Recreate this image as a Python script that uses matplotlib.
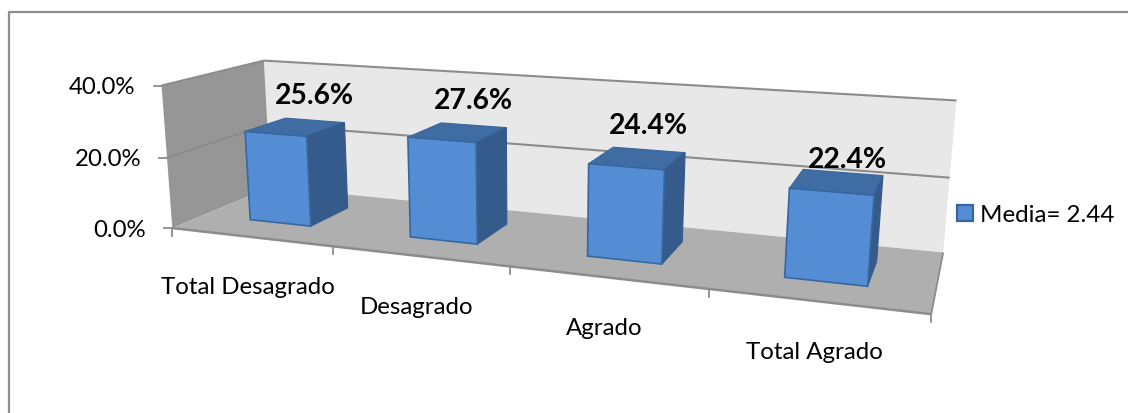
import numpy as np
import matplotlib
matplotlib.use("Agg")
import matplotlib.pyplot as plt
from matplotlib.patches import Polygon, Patch

plt.rcParams["font.family"] = ["Lato", "DejaVu Sans"]

categories = ["Total Desagrado", "Desagrado", "Agrado", "Total Agrado"]
values = [25.6, 27.6, 24.4, 22.4]
value_ticks = [0, 20, 40]
value_labels = ["0.0%", "20.0%", "40.0%"]
legend_label = "Media= 2.44"

BAR_W = 0.39
Z0, Z1 = 0.3, 0.72

# Box corners seen in the picture (category, value, depth) -> pixel, used to fit the camera
WORLD = np.array([
    (0, 0, 0), (4, 0, 0), (4, 0, 1), (0, 0, 1), (0, 40, 1),
    (4, 40, 1), (0, 40, 0), (4, 20, 1), (0, 20, 0),
], dtype=float)
PIXEL = np.array([
    (174, 228), (931, 317), (943.5, 251), (269, 190), (265.5, 61),
    (956, 102), (160, 87), (950, 179), (167, 158),
], dtype=float)


def fit_camera(world, pixel):
    rows, rhs = [], []
    for (x, y, z), (u, v) in zip(world, pixel):
        rows.append([x, y, z, 1, 0, 0, 0, 0, -u * x, -u * y, -u * z])
        rows.append([0, 0, 0, 0, x, y, z, 1, -v * x, -v * y, -v * z])
        rhs += [u, v]
    sol = np.linalg.lstsq(np.array(rows), np.array(rhs), rcond=None)[0]
    return np.append(sol, 1).reshape(3, 4)


CAM = fit_camera(WORLD, PIXEL)


def proj(x, y, z):
    p = CAM @ np.array([x, y, z, 1.0])
    return p[:2] / p[2]


def quad(ax, pts, color, edge="none", lw=0, zorder=1):
    ax.add_patch(Polygon([proj(*p) for p in pts], closed=True, facecolor=color,
                         edgecolor=edge, linewidth=lw, zorder=zorder))


def seg(ax, a, b, color="#8c8c8c", lw=1.5, zorder=2):
    p, q = proj(*a), proj(*b)
    ax.plot([p[0], q[0]], [p[1], q[1]], color=color, lw=lw, zorder=zorder,
            solid_capstyle="butt")


fig = plt.figure(figsize=(11.28, 4.14), dpi=100)
ax = fig.add_axes([0, 0, 1, 1])
ax.set_xlim(0, 1128)
ax.set_ylim(414, 0)
ax.axis("off")

# outer chart frame
ax.plot([8.5, 8.5, 1128], [414, 13, 13], color="#8e8e8e", lw=1.6, zorder=0)

n = len(categories)
top = value_ticks[-1]

# walls and floor
quad(ax, [(0, 0, 1), (n, 0, 1), (n, top, 1), (0, top, 1)], "#e8e8e8")
quad(ax, [(0, 0, 0), (0, 0, 1), (0, top, 1), (0, top, 0)], "#969696")
quad(ax, [(0, 0, 0), (n, 0, 0), (n, 0, 1), (0, 0, 1)], "#afafaf", zorder=1.5)

for v, lab in zip(value_ticks, value_labels):
    if v > 0:
        seg(ax, (0, v, 0), (0, v, 1))
        seg(ax, (0, v, 1), (n, v, 1))
    p = proj(0, v, 0)
    ax.plot([p[0] - 8, p[0]], [p[1], p[1]], color="#8c8c8c", lw=1.3, zorder=2)
    ax.text(p[0] - 26, p[1] + 1, lab, ha="right", va="center", fontsize=17.3, color="black")

# front and right floor edges plus the category ticks
seg(ax, (0, 0, 0), (n, 0, 0), lw=1.8)
seg(ax, (n, 0, 0), (n, 0, 1), lw=1.3)
for i in range(n + 1):
    p = proj(i, 0, 0)
    ax.plot([p[0], p[0]], [p[1], p[1] + 8], color="#8c8c8c", lw=1.3, zorder=2)

# bars
for i, (cat, val) in enumerate(zip(categories, values)):
    c = i + 0.5
    x0, x1 = c - BAR_W / 2, c + BAR_W / 2
    quad(ax, [(x0, val, Z0), (x1, val, Z0), (x1, val, Z1), (x0, val, Z1)], "#3f6ca3",
         edge="#3a669c", lw=0.8, zorder=3)
    quad(ax, [(x1, 0, Z0), (x1, 0, Z1), (x1, val, Z1), (x1, val, Z0)], "#355b8c",
         edge="#355b8c", lw=0.8, zorder=3)
    quad(ax, [(x0, 0, Z0), (x1, 0, Z0), (x1, val, Z0), (x0, val, Z0)], "#548dd4",
         edge="#36689f", lw=1.2, zorder=4)
    p = proj(c, val, Z1)
    # the last label sits lower, right on its bar
    dx, dy = (5, -13) if i == n - 1 else (0, -25)
    ax.text(p[0] + dx, p[1] + dy, f"{val:.1f}%", ha="center", va="center", fontsize=20.3,
            fontweight="bold", color="black", zorder=5)
    q = proj(c, 0, 0)
    ax.text(q[0] - 2, q[1] + 50, cat, ha="center", va="center", fontsize=17.3, color="black", zorder=5)

handle = Patch(facecolor="#548dd4", edgecolor="#36689f", linewidth=1.6, label=legend_label)
ax.legend(handles=[handle], loc="center left", bbox_to_anchor=(957 / 1128, 1 - 216 / 414),
          frameon=False, fontsize=17.4, handlelength=0.67, handleheight=0.67, handletextpad=0.28,
          borderpad=0, borderaxespad=0)

fig.savefig("out.png", dpi=100)
